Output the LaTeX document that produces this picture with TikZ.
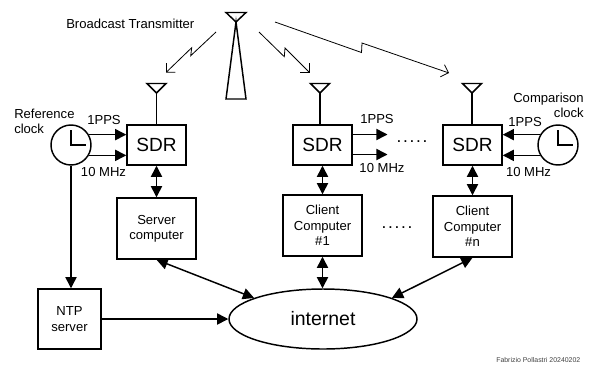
\documentclass[tikz,border=0pt]{standalone}
\usepackage{fontspec}
\setmainfont{Liberation Sans}
\usetikzlibrary{arrows.meta,shapes.geometric}

\setlength{\unitlength}{0.75pt}
\newcommand{\fivedots}{\fontsize{13}{13}\selectfont .\kern1.3pt.\kern1.3pt.\kern1.3pt.\kern1.3pt.}
\tikzset{
  block/.style={draw, line width=1.1pt, inner sep=0pt, align=center, font=\fontsize{9.8}{11.5}\selectfont},
  sdrbox/.style={block, minimum width=59\unitlength, minimum height=40\unitlength, font=\fontsize{14.3}{16}\selectfont},
  compbox/.style={block, minimum width=79\unitlength, minimum height=61\unitlength},
  clockface/.style={draw, circle, line width=1.1pt, minimum size=40\unitlength, inner sep=0pt},
  label/.style={inner sep=0pt, align=center, font=\fontsize{9.8}{11.5}\selectfont},
  link/.style={line width=1.1pt, -{Triangle[length=8.4pt,width=8.4pt]}},
  duplex/.style={line width=1.1pt, {Triangle[length=8.4pt,width=8.4pt]}-{Triangle[length=8.4pt,width=8.4pt]}},
  radio/.style={line width=0.6pt, -{Straight Barb[length=4.8pt,width=9.6pt]}},
  aerial/.style={line width=1.1pt, line join=miter}
}

\begin{document}
\begin{tikzpicture}[x=1\unitlength, y=-1\unitlength]
\useasboundingbox (0,0) rectangle (591,365);

% receivers
\node[sdrbox] at (156.5,145) (sdrA) {SDR};
\node[sdrbox] at (322.5,145) (sdrB) {SDR};
\node[sdrbox] at (472.5,145) (sdrC) {SDR};

% computers
\node[compbox] at (156.5,228.5) (server) {Server\\computer};
\node[compbox] at (322.5,225.5) (clientA) {Client\\Computer\\\#1};
\node[compbox] at (472.5,226.5) (clientN) {Client\\Computer\\\#n};
\node[compbox, minimum width=63\unitlength, minimum height=60\unitlength] at (69.5,319) (ntp) {NTP\\server};
\node[draw, ellipse, line width=1.1pt, minimum width=188\unitlength, minimum height=60\unitlength, inner sep=0pt, font=\fontsize{14.6}{16}\selectfont] at (323,319) (inet) {internet};

% clocks
\node[clockface] at (71,145) (clkref) {};
\node[clockface] at (558,145) (clkcmp) {};
\draw[line width=1.1pt] (71,130) -- (clkref.center) -- (86,145);
\draw[line width=1.1pt] (558,130) -- (clkcmp.center) -- (573,145);

% antennas
\foreach \n/\x in {sdrA/156.5, sdrB/320, sdrC/472} {
  \draw[aerial] (\x-9.5,83.5) -- (\x+9.5,83.5) -- (\x,93) -- cycle;
  \draw[aerial] (\x,93) -- (\x,125);
}

% transmitter
\draw[aerial] (226,12.5) -- (246,12.5) -- (236,22) -- cycle;
\draw[aerial] (236,22) -- (246,99) -- (226,99) -- cycle;
\node[label, anchor=west] at (66,24) (txlabel) {Broadcast Transmitter};

% radio paths
\coordinate (txA) at (216,32);
\coordinate (rxA) at (166,72.5);
\coordinate (txB) at (259,32);
\coordinate (rxB) at (309.5,72.5);
\coordinate (txC) at (275,22);
\coordinate (rxC) at (449,73);
\draw[radio] (txA) -- (190.7,55.7) -- (191.7,47.7) -- (rxA);
\draw[radio] (txB) -- (284.3,56.7) -- (285,48) -- (rxB);
\draw[radio] (txC) -- (361.5,52.5) -- (362,43) -- (rxC);

% clock signals
\draw[link] (clkref.30) -- (clkref.30 -| sdrA.west);
\draw[link] (clkref.-30) -- (clkref.-30 -| sdrA.west);
\draw[link] (clkcmp.150) -- (clkcmp.150 -| sdrC.east);
\draw[link] (clkcmp.-150) -- (clkcmp.-150 -| sdrC.east);
\coordinate (ppsout) at (387.5,134.5);
\coordinate (tenout) at (387.5,154.5);
\draw[link] (ppsout -| sdrB.east) -- (ppsout);
\draw[link] (tenout -| sdrB.east) -- (tenout);

\node[label] at (104,119.5) (ppsA) {1PPS};
\node[label] at (103.5,172) (tenA) {10 MHz};
\node[label] at (377,118.5) (ppsB) {1PPS};
\node[label] at (382,167.5) (tenB) {10 MHz};
\node[label] at (525,121.5) (ppsC) {1PPS};
\node[label] at (528.5,171.5) (tenC) {10 MHz};
\node[label, align=left, anchor=west] at (14,121) (reflabel) {Reference\\clock};
\node[label, align=right, anchor=east] at (584,105) (cmplabel) {Comparison\\clock};
\node[label] at (412,142) (dotsA) {\fivedots};
\node[label] at (397,227.5) (dotsB) {\fivedots};

% links
\draw[duplex] (sdrA) -- (server);
\draw[duplex] (sdrB) -- (clientA);
\draw[duplex] (sdrC) -- (clientN);
\draw[link] (clkref) -- (clkref |- ntp.north);
\draw[link] (ntp) -- (inet);
\draw[duplex] (server.south) -- (inet.163);
\draw[duplex] (clientA) -- (inet.north -| clientA);
\draw[duplex] (clientN.south) -- (inet.17);

\node[inner sep=0pt, anchor=west, text=black!75, font=\fontsize{5.2}{6}\selectfont] at (496,360.5) (credit) {Fabrizio Pollastri 20240202};
\end{tikzpicture}
\end{document}
